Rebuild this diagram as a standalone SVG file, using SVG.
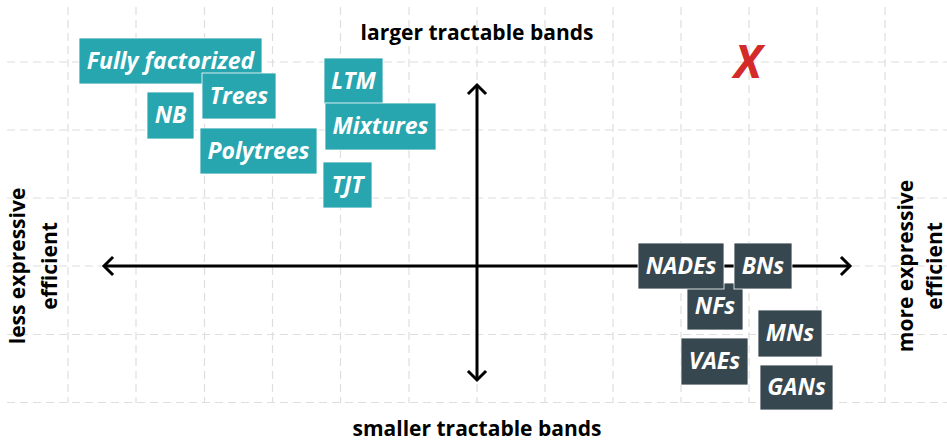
<svg xmlns="http://www.w3.org/2000/svg" width="947" height="441" viewBox="0 0 947 441">
<defs>
<style>
.grid line{stroke:#dedede;stroke-width:1.2;stroke-dasharray:8 5;fill:none}
.axis{stroke:#000;stroke-width:3;fill:none}
.head{stroke:#000;stroke-width:3;fill:none;stroke-linecap:square;stroke-linejoin:miter}
.teal rect{fill:#27a6b0;stroke:#fff;stroke-width:0.8}
.dark rect{fill:#37474f;stroke:#fff;stroke-width:0.8}
.lbl{font-family:"Open Sans","Noto Sans",sans-serif;font-weight:bold;font-style:italic;font-size:23px;fill:#fff;text-anchor:middle}
.ax{font-family:"Open Sans","Noto Sans",sans-serif;font-weight:bold;font-size:21px;fill:#000;text-anchor:middle}
</style>
</defs>
<rect width="947" height="441" fill="#fff"/>
<g class="grid">
<line x1="68" y1="7" x2="68" y2="403"/>
<line x1="136" y1="7" x2="136" y2="403"/>
<line x1="204.5" y1="7" x2="204.5" y2="403"/>
<line x1="272.5" y1="7" x2="272.5" y2="403"/>
<line x1="340.5" y1="7" x2="340.5" y2="403"/>
<line x1="409" y1="7" x2="409" y2="403"/>
<line x1="477" y1="7" x2="477" y2="403"/>
<line x1="545" y1="7" x2="545" y2="403"/>
<line x1="613" y1="7" x2="613" y2="403"/>
<line x1="681" y1="7" x2="681" y2="403"/>
<line x1="749" y1="7" x2="749" y2="403"/>
<line x1="817" y1="7" x2="817" y2="403"/>
<line x1="885" y1="7" x2="885" y2="403"/>
<line x1="7" y1="62" x2="947" y2="62"/>
<line x1="7" y1="130" x2="947" y2="130"/>
<line x1="7" y1="198" x2="947" y2="198"/>
<line x1="7" y1="266" x2="947" y2="266"/>
<line x1="7" y1="334.5" x2="947" y2="334.5"/>
<line x1="7" y1="402.5" x2="947" y2="402.5"/>
</g>
<g id="connectors">
<line class="axis" x1="104" y1="266" x2="850" y2="266"/>
<line class="axis" x1="477" y1="85" x2="477" y2="380"/>
<polyline class="head" points="112,258 104,266 112,274"/>
<polyline class="head" points="842,258 850,266 842,274"/>
<polyline class="head" points="469,93 477,85 485,93"/>
<polyline class="head" points="469,372 477,380 485,372"/>
</g>
<g id="axis-labels">
<text class="ax" x="477" y="40">larger tractable bands</text>
<text class="ax" x="477" y="436">smaller tractable bands</text>
<text class="ax" transform="translate(25,266) rotate(-90)">less expressive</text>
<text class="ax" transform="translate(57,266) rotate(-90)">efficient</text>
<text class="ax" transform="translate(913,266) rotate(-90)">more expressive</text>
<text class="ax" transform="translate(942,266) rotate(-90)">efficient</text>
</g>
<g id="node-fully-factorized" class="teal"><rect x="79" y="38" width="183" height="46"/><text class="lbl" x="170.5" y="69">Fully factorized</text></g>
<g id="node-trees" class="teal"><rect x="202" y="73" width="74" height="46"/><text class="lbl" x="239" y="104">Trees</text></g>
<g id="node-nb" class="teal"><rect x="147" y="92" width="47" height="47"/><text class="lbl" x="170.5" y="123">NB</text></g>
<g id="node-polytrees" class="teal"><rect x="200" y="128" width="117" height="46"/><text class="lbl" x="258.5" y="159">Polytrees</text></g>
<g id="node-ltm" class="teal"><rect x="324" y="58" width="59" height="46"/><text class="lbl" x="353.5" y="89">LTM</text></g>
<g id="node-mixtures" class="teal"><rect x="325" y="103" width="111" height="47"/><text class="lbl" x="380.5" y="134">Mixtures</text></g>
<g id="node-tjt" class="teal"><rect x="323" y="162" width="49" height="46"/><text class="lbl" x="347.5" y="193">TJT</text></g>
<g id="node-nfs" class="dark"><rect x="687" y="283" width="56" height="47"/><text class="lbl" x="715" y="314">NFs</text></g>
<g id="node-nades" class="dark"><rect x="638" y="243" width="86" height="46"/><text class="lbl" x="681" y="274">NADEs</text></g>
<g id="node-bns" class="dark"><rect x="734" y="243" width="58" height="46"/><text class="lbl" x="763" y="274">BNs</text></g>
<g id="node-mns" class="dark"><rect x="758" y="310" width="64" height="47"/><text class="lbl" x="790" y="341">MNs</text></g>
<g id="node-vaes" class="dark"><rect x="681" y="338" width="67" height="47"/><text class="lbl" x="714.5" y="369">VAEs</text></g>
<g id="node-gans" class="dark"><rect x="760" y="365" width="73" height="45"/><text class="lbl" x="796.5" y="395">GANs</text></g>
<g id="node-x"><text x="748" y="78" style="font-family:'Open Sans','Noto Sans',sans-serif;font-weight:bold;font-style:italic;font-size:46px;fill:#d32a2a;text-anchor:middle">X</text></g>
</svg>
